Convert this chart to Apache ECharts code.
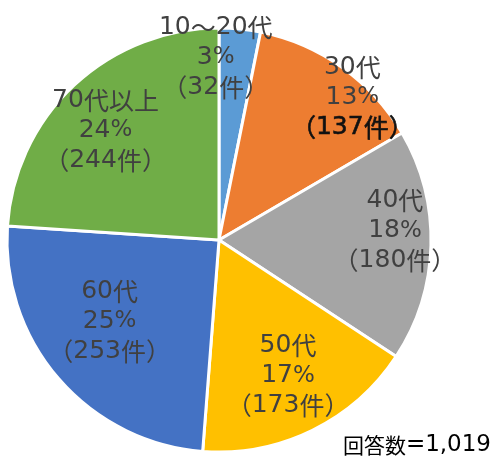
<!DOCTYPE html>
<html><head><meta charset="utf-8">
<script src="https://cdn.jsdelivr.net/npm/echarts@6/dist/echarts.min.js"></script>
<style>html,body{margin:0;padding:0;background:#fff}#c{width:497px;height:462px}</style>
</head><body><div id="c"></div>
<script>
const categories = ['10～20代', '30代', '40代', '50代', '60代', '70代以上'];
const counts = [32, 137, 180, 173, 253, 244];
const percents = [3, 13, 18, 17, 25, 24];
const totalLabel = '回答数=1,019';

const colors = ['#5B9BD5', '#ED7D31', '#A5A5A5', '#FFC000', '#4472C4', '#70AD47'];
const labelOffsets = [[-14, -74], [70, -54], [67, -12], [21, 38], [-27, 10], [-39, -30]];

const LATIN = '"DejaVu Sans", sans-serif';
const CJK = '"Noto Sans CJK JP", sans-serif';

// split a string into rich-text runs: latin digits/punct, percent, CJK
function rich(str, suffix) {
  let out = '', cur = '', kind = null;
  const kindOf = ch => ch === '%' ? 'p' : (/[0-9=,.]/.test(ch) ? 'd' : 'c');
  for (const ch of str) {
    const k = kindOf(ch);
    if (k !== kind && cur) { out += '{' + kind + suffix + '|' + cur + '}'; cur = ''; }
    kind = k; cur += ch;
  }
  if (cur) out += '{' + kind + suffix + '|' + cur + '}';
  return out;
}

function styles(color, bold, dSize, cSize, pSize, lh) {
  const s = {};
  const extra = bold ? {textBorderColor: color, textBorderWidth: 0.6} : {};
  s.d = Object.assign({fontFamily: LATIN, fontSize: dSize, color, lineHeight: lh, verticalAlign: 'middle'}, extra);
  s.p = Object.assign({fontFamily: LATIN, fontSize: pSize, color, lineHeight: lh, verticalAlign: 'middle'}, extra);
  s.c = Object.assign({fontFamily: CJK, fontSize: cSize, color, lineHeight: lh, verticalAlign: 'middle'}, extra);
  return s;
}
const base = styles('#404040', false, 25, 25, 23, 30);
const bold = styles('#111111', true, 25, 25, 23, 30);
const richStyles = {};
for (const k in base) richStyles[k] = base[k];
for (const k in bold) richStyles[k + 'B'] = bold[k];

const chart = echarts.init(document.getElementById('c'), null, {renderer: 'canvas'});
const data = categories.map((c, i) => ({
  name: c,
  value: counts[i],
  itemStyle: {color: colors[i]},
  label: {
    offset: labelOffsets[i],
    formatter: rich(c, '') + '\n' + rich(percents[i] + '%', '') + '\n' +
      rich('（' + counts[i] + '件）', i === 1 ? 'B' : '')
  }
}));
const totalRich = styles('#000000', false, 23, 21, 22, 24);
chart.setOption({
  animation: false,
  backgroundColor: '#fff',
  graphic: [{
    type: 'text', right: 6, bottom: 5,
    style: {text: rich(totalLabel, ''), rich: totalRich}
  }],
  series: [{
    type: 'pie',
    center: [219, 240],
    radius: [0, 212],
    startAngle: 90,
    clockwise: true,
    avoidLabelOverlap: false,
    minShowLabelAngle: 0,
    labelLayout: {hideOverlap: false},
    itemStyle: {borderColor: '#fff', borderWidth: 3},
    label: {
      show: true,
      position: 'inside',
      rotate: 0,
      align: 'center',
      rich: richStyles
    },
    labelLine: {show: false},
    emphasis: {disabled: true},
    data: data
  }]
});
</script></body></html>
